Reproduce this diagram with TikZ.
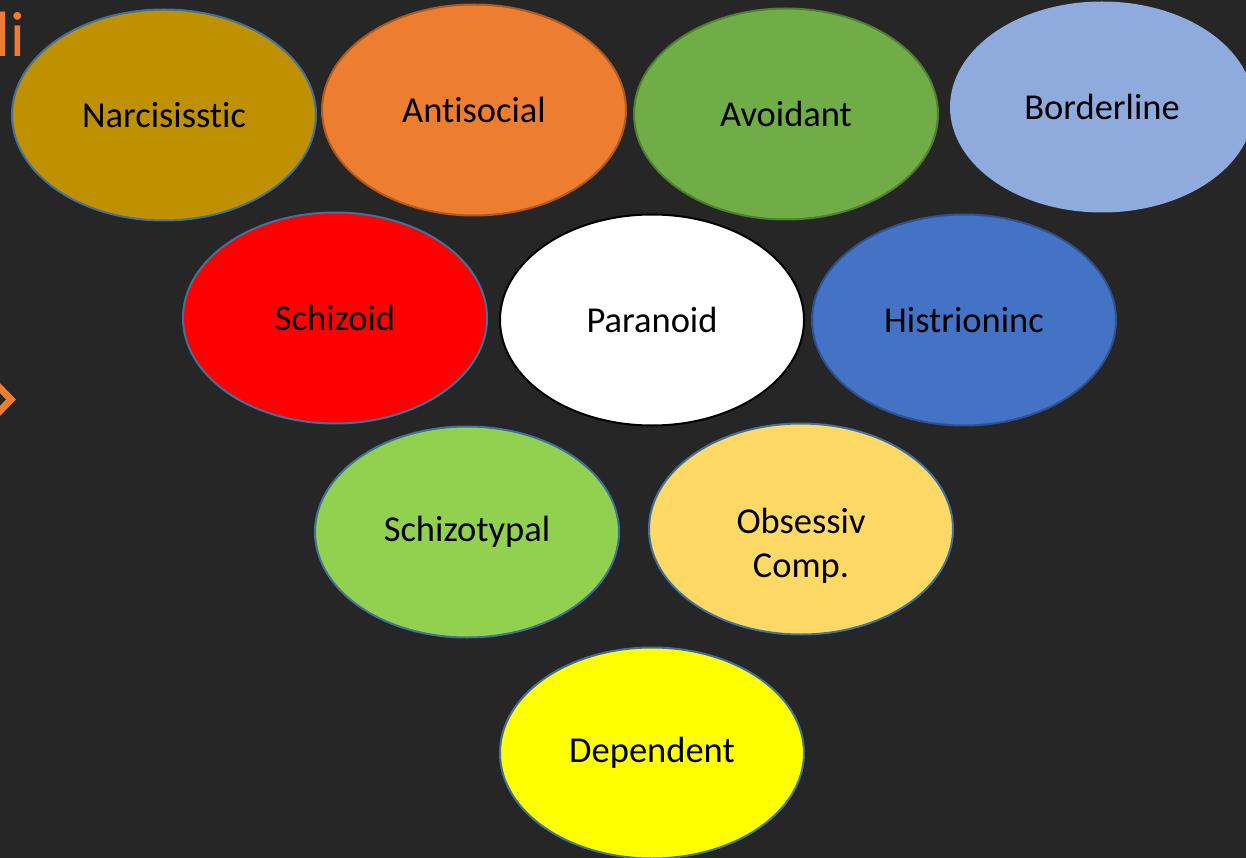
\documentclass[tikz,border=0pt]{standalone}
\usepackage{fontspec}
\setmainfont{Carlito}[Ligatures=NoCommon]
\usetikzlibrary{shapes.geometric}
\definecolor{bg}{HTML}{262626}
\definecolor{accent}{HTML}{ED7D31}
\definecolor{bluebd}{HTML}{41719C}
\definecolor{gold}{HTML}{BF9000}
\definecolor{orangebd}{HTML}{AE5A21}
\definecolor{green}{HTML}{70AD47}
\definecolor{greenbd}{HTML}{507E32}
\definecolor{lightblue}{HTML}{8FAADC}
\definecolor{blue}{HTML}{4472C4}
\definecolor{bluedk}{HTML}{2F528F}
\definecolor{lime}{HTML}{92D050}
\definecolor{sand}{HTML}{FFD966}
\definecolor{brightyellow}{HTML}{FFFF00}
\definecolor{brightred}{HTML}{FF0000}
\begin{document}
\begin{tikzpicture}[x=1pt,y=-1pt,
  blob/.style={ellipse, minimum width=304pt, minimum height=211pt, inner sep=0pt, outer sep=0pt,
    line width=2pt, draw=bluebd, font=\fontsize{36.5}{44}\selectfont, text=black},
  lbl/.style={font=\fontsize{36.5}{44}\selectfont, text=black, align=center, inner sep=0pt}]
\useasboundingbox[fill=bg] (0,0) rectangle (1246,858);
\node[font=\fontsize{64}{70}\selectfont, text=accent, anchor=base east, inner sep=0pt] (title) at (25,57) {li};
\draw[accent, line width=7pt, line join=miter] (-3,385) -- (11,399.5) -- (-3,414);
\node[blob, fill=gold] (nar) at (164,115) {Narcisisstic};
\node[blob, fill=accent, draw=orangebd] (ant) at (474,110) {Antisocial};
\node[blob, fill=green, draw=greenbd] (avo) at (786,114) {Avoidant};
\node[blob, fill=lightblue, draw=none] (bor) at (1102,107) {Borderline};
\node[blob, fill=brightred] (szd) at (335,318) {Schizoid};
\node[blob, fill=white, draw=black] (par) at (652,320) {Paranoid};
\node[blob, fill=blue, draw=bluedk] (his) at (964,320) {Histrioninc};
\node[blob, fill=lime] (szt) at (467,532) {Schizotypal};
\node[blob, fill=sand] (obs) at (801,529) {};
\node[lbl] (obstext) at (801,546) {Obsessiv\\Comp.};
\node[blob, fill=brightyellow] (dep) at (652,753) {Dependent};
\end{tikzpicture}
\end{document}
